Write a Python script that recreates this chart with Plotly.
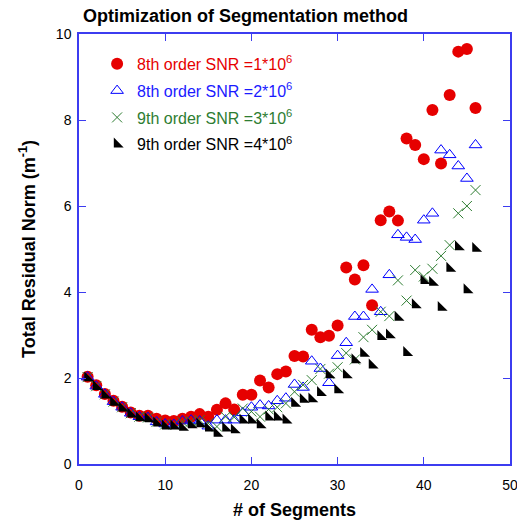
import plotly.graph_objects as go

segments = list(range(1, 47))

snr1_8th = [2.03, 1.83, 1.63, 1.47, 1.33, 1.20, 1.12, 1.12, 1.05, 1.01,
            1.00, 1.05, 1.10, 1.16, 1.10, 1.26, 1.41, 1.27, 1.61, 1.61,
            1.94, 1.78, 2.09, 2.15, 2.51, 2.50, 3.12, 2.95, 2.98, 3.22,
            4.57, 4.29, 4.62, 3.69, 5.67, 5.87, 5.66, 7.57, 7.42, 7.09,
            8.23, 6.99, 8.58, 9.59, 9.65, 8.28]

snr2_8th = [2.02, 1.81, 1.62, 1.45, 1.32, 1.18, 1.10, 1.08, 0.98, 0.93,
            0.92, 1.00, 1.02, 1.00, 0.88, 1.02, 1.02, 1.02, 1.19, 1.32,
            1.37, 1.35, 1.47, 1.53, 1.85, 1.78, 2.39, 2.22, 1.89, 2.52,
            2.82, 3.43, 3.43, 4.06, 3.54, 4.40, 5.33, 5.27, 5.22, 5.67,
            5.83, 7.30, 7.19, 6.93, 6.64, 7.42]

snr3_9th = [2.02, 1.81, 1.62, 1.45, 1.32, 1.18, 1.10, 1.08, 0.98, 0.92,
            0.92, 0.98, 0.99, 1.02, 0.95, 0.87, 1.10, 1.09, 1.29, 1.22,
            1.10, 1.27, 1.32, 1.41, 1.68, 1.84, 1.95, 2.21, 2.10, 2.25,
            2.58, 2.43, 2.95, 3.12, 3.54, 3.44, 4.27, 3.80, 4.51, 4.36,
            4.54, 4.84, 5.09, 5.83, 6.00, 6.37]

snr4_9th = [2.00, 1.80, 1.60, 1.43, 1.30, 1.16, 1.07, 1.05, 0.95, 0.88,
            0.88, 0.85, 0.91, 0.93, 0.83, 0.71, 0.83, 0.79, 1.02, 1.02,
            0.91, 1.09, 1.09, 1.02, 1.41, 1.50, 1.51, 1.66, 2.07, 1.72,
            2.07, 2.42, 2.57, 2.30, 2.96, 3.00, 3.41, 2.59, 3.70, 4.26,
            4.22, 3.64, 4.55, 5.05, 4.05, 5.01]

names = ["8th order SNR =1*10<sup>6</sup>", "8th order SNR =2*10<sup>6</sup>",
         "9th order SNR =3*10<sup>6</sup>", "9th order SNR =4*10<sup>6</sup>"]
series = [snr1_8th, snr2_8th, snr3_9th, snr4_9th]
colors = ["#e60000", "#0000ff", "#2e7d32", "#000000"]
text_colors = ["#e60000", "#1a1aff", "#2e7d32", "#000000"]
symbols = ["circle", "triangle-up-open", "x-thin-open", "triangle-sw"]
sizes = [12, 11, 10, 11]

FONT = "Liberation Sans, Arial, sans-serif"
AXIS = "#3c3cf0"

fig = go.Figure()
for i, (nm, ys) in enumerate(zip(names, series)):
    marker = dict(symbol=symbols[i], size=sizes[i], color=colors[i],
                  line=dict(width=1 if i in (1, 2) else 0, color=colors[i]))
    fig.add_trace(go.Scatter(
        x=segments, y=ys, mode="markers", marker=marker,
        name=f"<span style='color:{text_colors[i]}'>{nm}</span>",
        legendgroup=f"g{i}",
    ))

axis_common = dict(showline=True, linecolor=AXIS, linewidth=1.5, mirror="ticks",
                   ticks="inside", ticklen=7, tickcolor=AXIS, tickwidth=1,
                   showgrid=False, zeroline=False, automargin=False,
                   ticklabeloverflow="allow",
                   tickfont=dict(family=FONT, size=14, color="#000"))

fig.update_layout(
    width=517, height=520,
    margin=dict(l=79, r=7, t=34, b=56),
    paper_bgcolor="white", plot_bgcolor="white",
    font=dict(family=FONT, color="#000"),
    title=dict(text="<b>Optimization of Segmentation method</b>",
               x=83 / 517, xanchor="left", xref="container",
               y=1 - 16 / 520, yanchor="middle", yref="container",
               font=dict(family=FONT, size=18, color="#000")),
    xaxis=dict(range=[0, 50], dtick=10, ticklabelstandoff=7,
               title=dict(text="<b># of Segments</b>", standoff=12,
                          font=dict(family=FONT, size=18, color="#000")),
               **axis_common),
    yaxis=dict(range=[0, 10], dtick=2, ticklabelstandoff=3,
               title=dict(text="<b>Total Residual Norm (m<sup>-1</sup>)</b>", standoff=16,
                          font=dict(family=FONT, size=18, color="#000")),
               **axis_common),
    showlegend=True,
    legend=dict(x=0.042, y=0.97, xanchor="left", yanchor="top",
                bgcolor="rgba(0,0,0,0)", borderwidth=0,
                font=dict(family=FONT, size=16), tracegroupgap=3,
                itemwidth=30),
)

fig.write_html("out.html")
